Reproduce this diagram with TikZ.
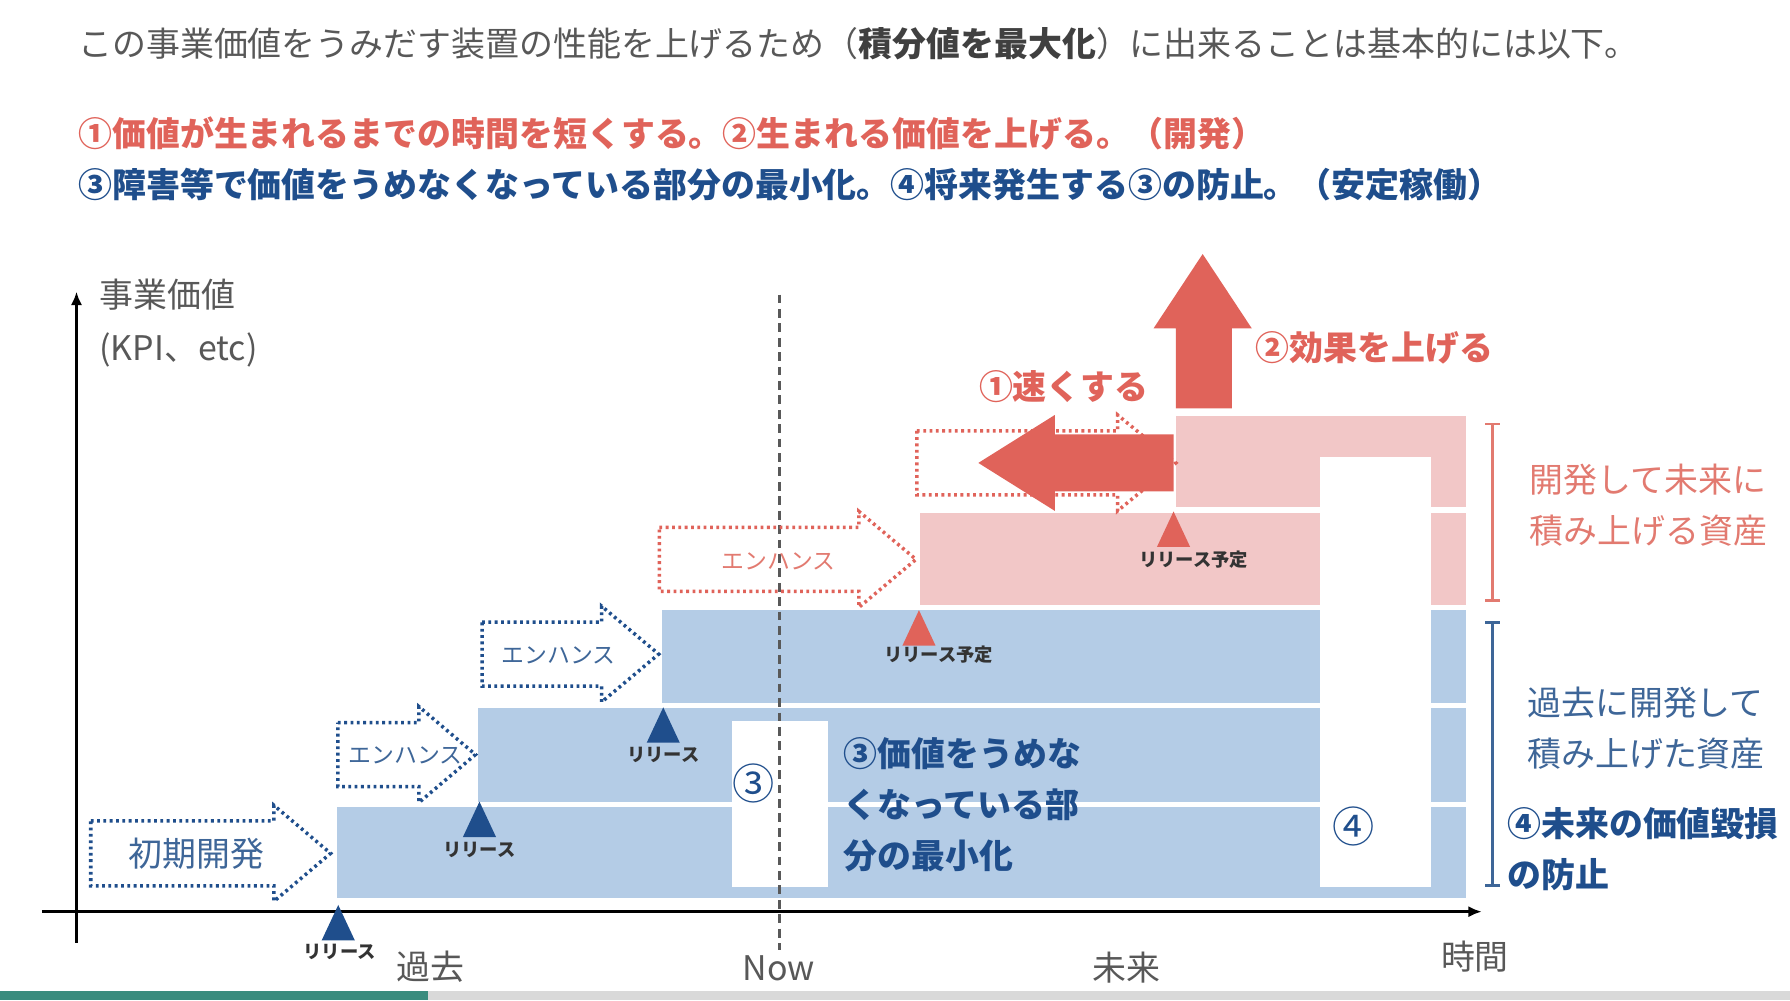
\documentclass[tikz,border=0pt]{standalone}
\usepackage{fontspec}
\setmainfont{Noto Sans CJK JP}
\usetikzlibrary{arrows.meta}

\definecolor{barblue}{RGB}{180,204,230}
\definecolor{barpink}{RGB}{242,199,199}
\definecolor{hotred}{RGB}{224,99,90}
\definecolor{softred}{RGB}{226,122,112}
\definecolor{navy}{RGB}{31,78,140}
\definecolor{midblue}{RGB}{62,102,152}
\definecolor{greytxt}{RGB}{88,88,88}
\definecolor{slideteal}{RGB}{58,140,126}
\definecolor{slidegrey}{RGB}{217,217,217}

% block arrow: style, tail x, neck x, tip x, middle y, half shaft, half head
\newcommand{\blockarrow}[7]{%
  \draw[#1] (#2,#5-#6) -- (#3,#5-#6) -- (#3,#5-#7) -- (#4,#5)
        -- (#3,#5+#7) -- (#3,#5+#6) -- (#2,#5+#6) -- cycle;}
% release triangle: apex x, apex y, colour
\newcommand{\releasetri}[3]{%
  \fill[#3] (#1-14.5,#2+31) -- (#1,#2) -- (#1+14.5,#2+31) -- cycle;}

\begin{document}
\begin{tikzpicture}[x=0.011416cm, y=-0.011416cm,
    txt/.style ={font=\fontsize{9.65}{14.6}\selectfont, inner sep=0pt, align=left},
    bold/.style={txt, font=\fontsize{9.65}{14.6}\selectfont\bfseries},
    tag/.style ={font=\fontsize{6.5}{8}\selectfont, inner sep=0pt},
    rel/.style ={font=\fontsize{5.2}{6}\selectfont\bfseries, text=black!80, inner sep=0pt},
    circ/.style={font=\fontsize{12}{14}\selectfont, text=navy, inner sep=0pt},
    bluedots/.style={draw=navy, line width=1pt, dash pattern=on 0.8pt off 1pt},
    reddots/.style ={draw=hotred, line width=1pt, dash pattern=on 0.8pt off 1pt},
    axis/.style={line width=1pt, -{Latex[length=3.8pt,width=3.2pt]}},
  ]
  \useasboundingbox (0,0) rectangle (1568,876);

  % ---------------- the lines above the chart ------------------------------
  \node[txt, anchor=west, text=greytxt] (title) at (68,38)
    {この事業価値をうみだす装置の性能を上げるため（{\bfseries\color{black!75}積分値を最大化}）に出来ることは基本的には以下。};
  \node[bold, anchor=west, text=hotred] (devline) at (68,117)
    {①価値が生まれるまでの時間を短くする。②生まれる価値を上げる。（開発）};
  \node[bold, anchor=west, text=navy] (opsline) at (68,162)
    {③障害等で価値をうめなくなっている部分の最小化。④将来発生する③の防止。（安定稼働）};

  % ---------------- stacked value bars -------------------------------------
  \fill[barblue] (295.4,706.6) rectangle (1284.5,786.9);
  \fill[barblue] (418.8,620.5) rectangle (1284.5,702.2);
  \fill[barblue] (580.1,534.5) rectangle (1284.5,616.1);
  \fill[barpink] (806.3,449.0) rectangle (1284.5,530.0);
  \fill[barpink] (1030,364.4)  rectangle (1284.5,443.8);
  % lost value (3) and future loss (4)
  \fill[white] (641,631.6)    rectangle (725,776.7);
  \fill[white] (1156.5,400)   rectangle (1253.5,776.7);

  % ---------------- axes ----------------------------------------------------
  \coordinate (o)  at (67,798.6);
  \coordinate (xe) at (1298,798.6);
  \coordinate (ye) at (67,255.5);
  \draw[axis] (36.6,798.6) -- (xe);
  \draw[axis] (67,826) -- (ye);
  \draw[line width=0.8pt, black!65, dash pattern=on 2.5pt off 1.6pt] (682.5,258) -- (682.5,832);

  \node[txt, anchor=west, text=greytxt] (ylab)    at (86.5,258.4) {事業価値};
  \node[txt, anchor=west, text=greytxt] (ylabsub) at (86.5,306.6) {(KPI、etc)};
  \node[txt, text=greytxt] (past)   at (376.7,846.8) {過去};
  \node[txt, text=greytxt] (now)    at (682.4,848)   {Now};
  \node[txt, text=greytxt] (future) at (986.4,848)   {未来};
  \node[txt, text=greytxt] (time)   at (1292,838)    {時間};

  % ---------------- development steps (dotted arrows) ----------------------
  \blockarrow{bluedots}{79.5}{240}{289.6}{747.5}{28.5}{42}
  \blockarrow{bluedots}{296}{367}{416.5}{661}{28}{42}
  \blockarrow{bluedots}{422.3}{527}{577}{573}{28}{42}
  \blockarrow{reddots}{577.6}{752.4}{802.4}{490}{28}{42}
  \blockarrow{reddots}{803.2}{979}{1030}{405.5}{28}{42}

  \node[txt, text=midblue] (initdev) at (172,747.5) {初期開発};
  \node[tag, text=midblue] (enhA) at (355.3,661.4) {エンハンス};
  \node[tag, text=midblue] (enhB) at (489.4,573.7) {エンハンス};
  \node[tag, text=softred] (enhC) at (682,492)     {エンハンス};

  % ---------------- releases -----------------------------------------------
  \releasetri{296.3}{792.7}{navy}
  \releasetri{420}{702.2}{navy}
  \releasetri{581}{619.6}{navy}
  \releasetri{805}{534.5}{hotred}
  \releasetri{1028}{448}{hotred}
  \node[rel] (relA) at (297.6,833.6) {リリース};
  \node[rel] (relB) at (420,744.6)   {リリース};
  \node[rel] (relC) at (581,661.4)   {リリース};
  \node[rel] (relD) at (822.3,573.7) {リリース予定};
  \node[rel] (relE) at (1045.7,490.5) {リリース予定};

  % ---------------- (1) faster, (2) bigger ----------------------------------
  \blockarrow{fill=hotred, draw=none}{1028}{924}{857}{405.5}{25}{42}
  \fill[hotred] (1030,357.7) -- (1079,357.7) -- (1079,287.6) -- (1096.5,287.6)
        -- (1053.5,222.5) -- (1010.5,287.6) -- (1030,287.6) -- cycle;
  \node[bold, anchor=west, text=hotred] (faster) at (857,338.7)  {①速くする};
  \node[bold, anchor=west, text=hotred] (bigger) at (1099.5,305) {②効果を上げる};

  % ---------------- (3) and (4) ---------------------------------------------
  \node[circ] (lossmark) at (660,686.2)  {③};
  \node[circ] (riskmark) at (1185.3,724) {④};
  \node[bold, anchor=west, text=navy] (lossnote) at (738.3,705)
    {③価値をうめな\\くなっている部\\分の最小化};

  % ---------------- brackets on the right ------------------------------------
  \draw[softred, line width=0.8pt, {Bar[width=4.2pt]}-{Bar[width=4.2pt]}] (1307.5,370.2) -- (1307.5,527);
  \draw[midblue, line width=0.8pt, {Bar[width=4.2pt]}-{Bar[width=4.2pt]}] (1307.5,543.7) -- (1307.5,776.7);
  \node[txt, anchor=west, text=softred] (futassets) at (1339.4,442.4) {開発して未来に\\積み上げる資産};
  \node[txt, anchor=west, text=midblue] (pastassets) at (1337.3,638) {過去に開発して\\積み上げた資産};
  \node[bold, anchor=west, text=navy] (prevent) at (1319.8,744) {④未来の価値毀損\\の防止};

  % ---------------- slide progress bar ---------------------------------------
  \fill[slideteal] (0,868) rectangle (375,876);
  \fill[slidegrey] (375,868) rectangle (1568,876);
\end{tikzpicture}
\end{document}
